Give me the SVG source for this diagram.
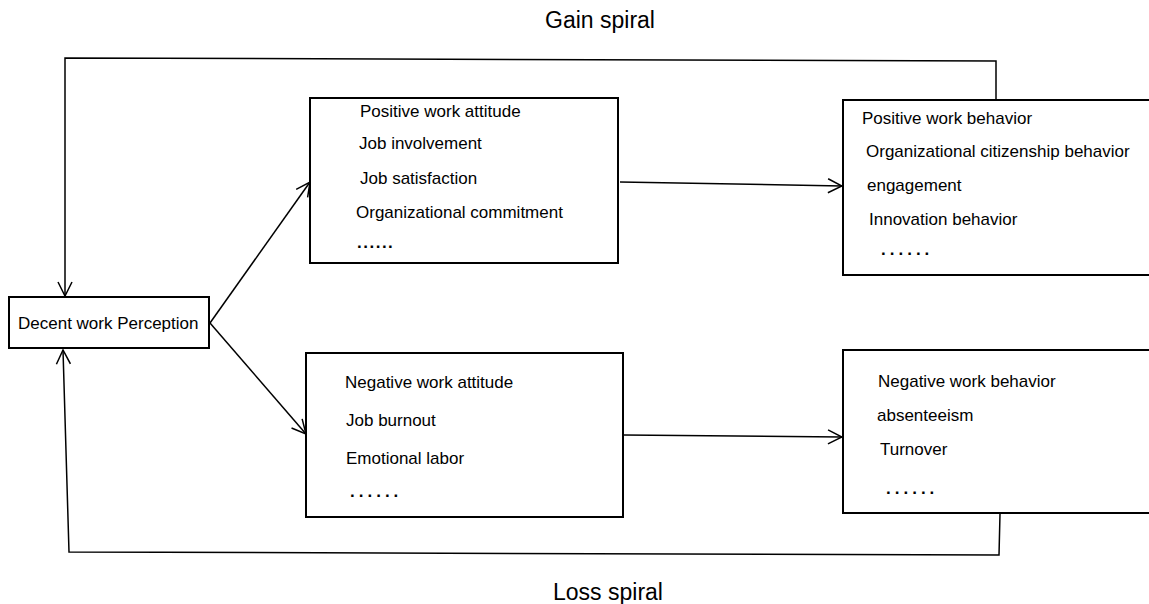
<svg xmlns="http://www.w3.org/2000/svg" width="1149" height="604" viewBox="0 0 1149 604">
<style>
.box{fill:#fff;stroke:#000;stroke-width:2}
.t{font-family:"Liberation Sans",Arial,sans-serif;font-size:17px;fill:#000}
.d{font-family:"Liberation Sans",Arial,sans-serif;font-size:17px;fill:#000;letter-spacing:4px;font-weight:bold}
.title{font-family:"Liberation Sans",Arial,sans-serif;font-size:23px;fill:#000;text-anchor:middle}
.c{fill:none;stroke:#000;stroke-width:1.5}
</style>
<defs>
<marker id="arr" viewBox="0 0 16 16" refX="15" refY="8" markerWidth="16" markerHeight="16" markerUnits="userSpaceOnUse" orient="auto">
<path d="M1,1 L15,8 L1,15" fill="none" stroke="#000" stroke-width="1.5"/>
</marker>
</defs>
<rect width="1149" height="604" fill="#fff"/>
<text class="title" x="600" y="28">Gain spiral</text>
<text class="title" x="608" y="600">Loss spiral</text>
<g id="connectors">
<polyline class="c" points="996,100 996,61 65,58 65,296" marker-end="url(#arr)"/>
<polyline class="c" points="1000,514 999,555 69,552 63,350" marker-end="url(#arr)"/>
<line class="c" x1="210" y1="323" x2="310" y2="182" marker-end="url(#arr)"/>
<line class="c" x1="210" y1="323" x2="306" y2="434" marker-end="url(#arr)"/>
<line class="c" x1="620" y1="182" x2="842" y2="186" marker-end="url(#arr)"/>
<line class="c" x1="624" y1="435" x2="842" y2="437" marker-end="url(#arr)"/>
</g>
<g id="decent">
<rect class="box" x="9" y="297" width="200" height="51"/>
<text class="t" x="18" y="329">Decent work Perception</text>
</g>
<g id="posatt">
<rect class="box" x="310" y="98" width="308" height="165"/>
<text class="t" x="360" y="117">Positive work attitude</text>
<text class="t" x="359" y="149">Job involvement</text>
<text class="t" x="360" y="184">Job satisfaction</text>
<text class="t" x="356" y="218">Organizational commitment</text>
<text class="d" x="357" y="248" style="letter-spacing:1.5px">......</text>
</g>
<g id="posbeh">
<rect class="box" x="843" y="100" width="310" height="175"/>
<text class="t" x="862" y="124">Positive work behavior</text>
<text class="t" x="866" y="157">Organizational citizenship behavior</text>
<text class="t" x="867" y="191">engagement</text>
<text class="t" x="869" y="225">Innovation behavior</text>
<text class="d" x="881" y="255">......</text>
</g>
<g id="negatt">
<rect class="box" x="306" y="353" width="317" height="164"/>
<text class="t" x="345" y="388">Negative work attitude</text>
<text class="t" x="346" y="426">Job burnout</text>
<text class="t" x="346" y="464">Emotional labor</text>
<text class="d" x="350" y="497">......</text>
</g>
<g id="negbeh">
<rect class="box" x="843" y="350" width="310" height="163"/>
<text class="t" x="878" y="387">Negative work behavior</text>
<text class="t" x="877" y="421">absenteeism</text>
<text class="t" x="880" y="455">Turnover</text>
<text class="d" x="886" y="494">......</text>
</g>
</svg>
